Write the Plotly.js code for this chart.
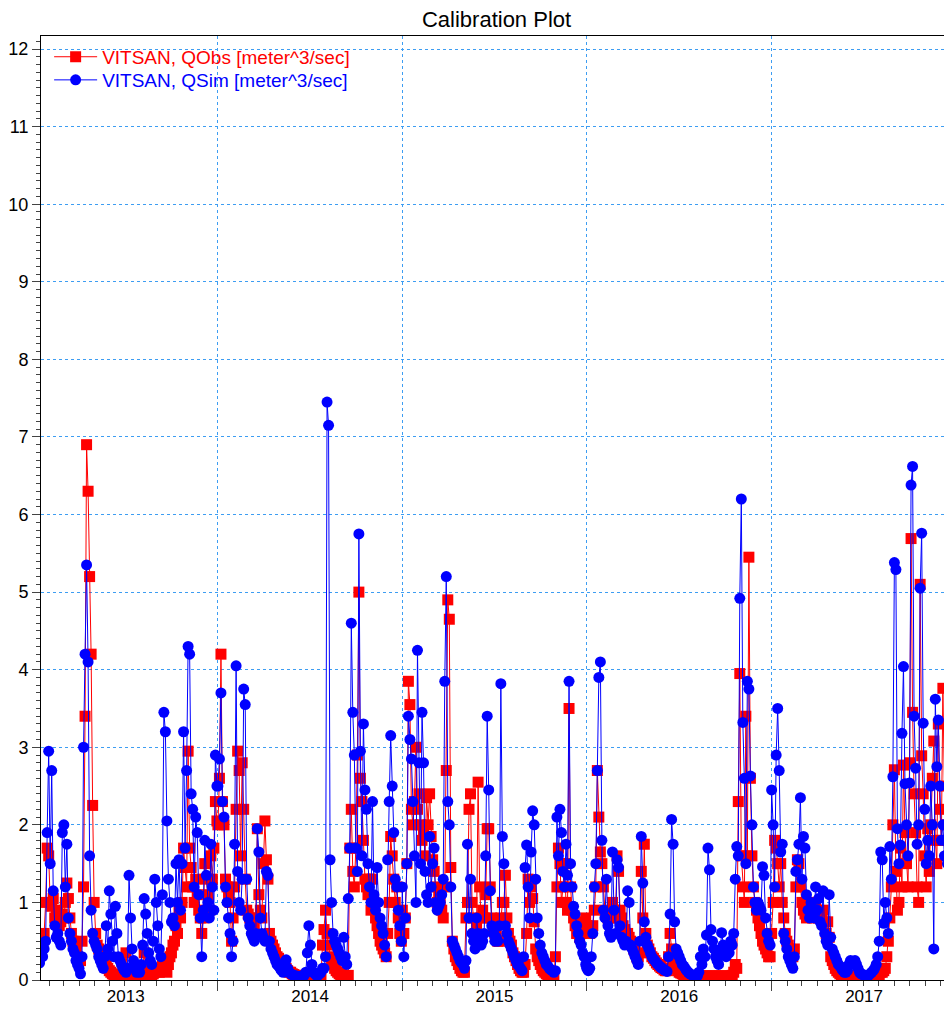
<!DOCTYPE html>
<html>
<head>
<meta charset="utf-8">
<script src="https://cdn.plot.ly/plotly-3.0.1.min.js"></script>
<style>html,body{margin:0;padding:0;background:#fff}</style>
</head>
<body>
<div id="chart" style="width:944px;height:1010px"></div>
<script>
// One value every 3 days, starting 1 January of each year (122 values per year)
const STEP_DAYS = 3;
const years = [2013, 2014, 2015, 2016, 2017];

const obsName = "VITSAN, QObs [meter^3/sec]";
const simName = "VITSAN, QSim [meter^3/sec]";

// Observed discharge (m3/s)
const obs2013 = [
  0.35,0.4,0.38,0.4,0.35,0.5,0.45,0.6,1.0,1.7,
  1.6,1.0,0.95,1.05,0.8,0.85,0.9,0.7,0.75,0.85,
  0.8,1.0,1.25,1.05,0.8,0.6,0.5,0.45,0.4,0.3,
  0.28,0.25,0.5,1.2,3.4,6.9,6.3,5.2,4.2,2.25,
  1.0,0.6,0.45,0.4,0.35,0.3,0.25,0.2,0.18,0.15,
  0.12,0.1,0.08,0.07,0.06,0.05,0.05,0.05,0.05,0.05,
  0.05,0.35,0.1,0.06,0.05,0.04,0.04,0.04,0.04,0.05,
  0.05,0.05,0.1,0.35,0.15,0.08,0.06,0.05,0.06,0.08,
  0.1,0.1,0.12,0.1,0.15,0.2,0.15,0.12,0.1,0.2,
  0.3,0.35,0.45,0.5,0.7,0.6,0.9,0.8,1.0,1.7,
  1.45,1.2,2.95,1.7,1.45,1.2,1.0,1.3,1.1,0.9,
  0.8,0.6,0.8,1.5,1.3,1.1,0.9,1.6,1.3,1.7,
  2.3,2.05];
const obs2014 = [
  2.0,2.6,4.2,2.3,2.0,1.3,1.2,1.1,1.0,0.5,
  0.8,1.2,2.2,2.95,2.7,1.6,2.8,2.2,1.3,0.9,
  0.85,0.8,0.75,0.7,0.7,0.8,1.95,1.1,0.9,0.8,
  1.5,2.05,1.55,1.3,0.6,0.5,0.45,0.4,0.35,0.3,
  0.28,0.25,0.22,0.2,0.18,0.15,0.12,0.1,0.1,0.08,
  0.07,0.06,0.06,0.05,0.05,0.05,0.05,0.05,0.05,0.05,
  0.05,0.05,0.05,0.05,0.05,0.05,0.05,0.05,0.05,0.45,
  0.65,0.9,0.6,0.45,0.3,0.25,0.2,0.15,0.12,0.1,
  0.08,0.07,0.06,0.05,0.05,0.05,0.06,1.7,2.2,1.4,
  1.2,1.7,2.9,5.0,2.6,2.3,1.8,1.3,1.2,1.1,
  1.3,0.9,1.3,1.0,0.8,0.7,0.6,0.5,0.45,0.4,
  0.35,0.3,0.6,1.0,1.85,1.6,1.3,1.0,1.2,0.8,
  0.6,0.5];
const obs2015 = [
  0.9,0.6,0.8,1.5,3.85,3.55,2.2,2.0,2.3,3.0,
  2.2,2.4,2.0,1.8,1.9,1.6,2.35,2.0,2.4,1.85,
  1.55,1.4,1.2,1.0,1.1,1.0,0.9,0.8,1.2,2.7,
  4.9,4.65,1.45,0.5,0.4,0.3,0.25,0.2,0.15,0.12,
  0.1,0.1,0.8,1.0,2.2,2.4,1.0,0.8,0.6,0.7,
  2.55,1.2,0.8,0.9,0.8,1.1,1.95,1.95,1.2,0.8,
  0.7,0.6,0.6,0.5,0.5,0.8,1.0,1.0,1.35,0.8,
  0.6,0.5,0.45,0.35,0.3,0.25,0.2,0.15,0.12,0.1,
  0.1,0.2,0.6,1.3,1.0,1.2,1.05,0.75,0.4,0.3,
  0.25,0.2,0.15,0.12,0.1,0.08,0.07,0.06,0.05,0.05,
  0.05,0.3,1.2,1.7,1.5,1.0,1.2,1.5,1.0,0.9,
  3.5,1.2,0.9,0.8,0.7,0.6,0.6,0.55,0.6,0.7,
  0.75,0.8];
const obs2016 = [
  0.7,0.65,0.6,0.65,0.7,0.9,1.2,2.7,2.1,1.65,
  1.5,1.2,0.9,0.85,0.8,0.8,0.85,1.0,0.9,0.8,
  1.6,1.4,0.9,0.8,0.7,0.65,0.6,0.6,0.55,0.5,
  0.45,0.4,0.35,0.3,0.3,0.35,1.4,0.8,1.75,0.6,
  0.45,0.4,0.35,0.3,0.28,0.25,0.22,0.2,0.18,0.16,
  0.15,0.13,0.12,0.12,0.3,0.6,0.4,0.25,0.2,0.15,
  0.12,0.1,0.09,0.08,0.07,0.06,0.06,0.05,0.05,0.05,
  0.05,0.05,0.05,0.05,0.05,0.05,0.05,0.05,0.05,0.05,
  0.05,0.05,0.05,0.05,0.05,0.05,0.05,0.05,0.05,0.05,
  0.05,0.05,0.05,0.05,0.05,0.05,0.06,0.1,0.2,0.15,
  2.3,3.95,1.6,1.2,1.0,3.4,1.6,5.45,2.6,1.6,
  1.2,1.0,0.9,0.8,0.7,0.6,0.5,0.45,0.4,0.35,
  0.3,0.3];
const obs2017 = [
  0.6,1.0,1.8,1.7,1.5,1.2,1.5,1.0,0.8,0.6,
  0.5,0.45,0.4,0.35,0.3,0.4,1.2,1.55,1.5,1.2,
  1.0,0.9,0.85,0.8,1.0,0.9,0.85,0.8,0.9,1.0,
  0.9,0.8,0.85,0.8,0.9,0.75,0.6,0.75,0.55,0.3,
  0.25,0.2,0.15,0.12,0.1,0.08,0.07,0.06,0.05,0.05,
  0.05,0.05,0.05,0.05,0.05,0.05,0.05,0.05,0.05,0.05,
  0.05,0.05,0.05,0.05,0.05,0.05,0.05,0.05,0.05,0.05,
  0.05,0.06,0.1,0.1,0.12,0.15,0.3,0.5,0.8,1.2,
  2.0,2.71,1.4,0.9,1.0,1.7,1.2,2.77,1.9,1.5,
  1.2,2.8,5.69,3.45,2.4,1.9,1.2,1.0,5.1,2.89,
  2.4,1.6,1.2,1.95,1.4,2.0,2.6,3.08,1.8,1.5,
  3.3,2.2,1.8,3.76,2.5,2.0,1.8,1.6,1.5,1.4,
  1.3,1.2];

// Simulated discharge (m3/s)
const sim2013 = [
  0.3,0.28,0.3,0.25,0.22,0.35,0.3,0.4,0.5,1.9,
  2.95,1.5,2.7,1.15,0.7,0.55,0.6,0.5,0.45,1.9,
  2.0,1.2,1.75,0.8,0.6,0.5,0.4,0.35,0.25,0.2,
  0.15,0.08,0.3,3.0,4.2,5.35,4.1,1.6,0.9,0.6,
  0.5,0.45,0.4,0.3,0.25,0.2,0.15,0.3,0.7,0.4,
  1.15,0.85,0.5,0.3,0.95,0.6,0.3,0.25,0.2,0.15,
  0.12,0.1,0.15,1.35,0.8,0.4,0.25,0.15,0.1,0.12,
  0.1,0.2,0.45,1.05,0.85,0.6,0.35,0.25,0.2,0.5,
  1.3,1.0,0.7,0.4,0.3,1.1,3.45,3.2,2.05,1.3,
  1.0,0.75,0.8,0.7,1.5,1.0,1.55,0.9,1.5,3.2,
  1.7,2.7,4.3,4.2,2.4,2.2,1.2,2.1,1.9,1.1,
  0.8,0.3,0.9,1.8,1.35,1.0,0.8,1.75,1.2,0.9,
  2.9,2.5];
const sim2014 = [
  2.5,2.85,3.7,2.3,2.1,1.2,1.0,0.8,0.6,0.3,
  0.5,1.75,4.05,1.4,1.0,0.9,1.3,3.75,3.55,1.3,
  0.8,0.7,0.6,0.55,0.5,0.6,1.95,1.65,0.8,0.6,
  0.55,0.5,1.4,1.35,0.5,0.4,0.35,0.3,0.25,0.2,
  0.18,0.15,0.12,0.1,0.12,0.26,0.15,0.1,0.08,0.07,
  0.06,0.05,0.05,0.04,0.04,0.05,0.05,0.06,0.1,0.35,
  0.7,0.45,0.2,0.1,0.08,0.06,0.06,0.08,0.1,0.15,
  0.15,0.3,7.45,7.15,1.55,1.0,0.6,0.5,0.45,0.4,
  0.35,0.3,0.25,0.55,0.3,0.2,1.05,1.7,4.6,3.45,
  2.9,1.7,1.4,5.75,2.95,1.6,3.3,2.45,2.2,1.5,
  1.2,1.0,2.3,1.1,0.9,1.45,1.0,0.8,0.7,0.6,
  0.45,0.3,1.55,2.3,3.15,2.5,1.9,1.3,1.2,0.9,
  0.7,0.5];
const sim2015 = [
  1.2,0.3,0.8,1.5,3.4,3.1,2.85,2.3,1.6,1.0,
  4.25,2.8,1.5,3.45,2.8,1.4,1.1,1.0,1.85,1.2,
  1.5,1.7,1.0,0.9,0.95,1.0,1.1,1.3,3.85,5.2,
  2.3,2.0,1.2,0.5,0.45,0.4,0.35,0.3,0.25,0.22,
  0.2,0.15,0.25,1.75,0.8,1.3,0.6,0.5,0.4,0.8,
  0.6,0.5,0.45,0.5,0.6,1.6,3.4,2.45,1.15,0.7,
  0.6,0.5,0.55,0.5,0.7,3.82,1.85,1.5,0.7,0.6,
  0.5,0.45,0.4,0.35,0.3,0.25,0.2,0.18,0.15,0.12,
  0.3,1.45,1.74,1.2,0.8,1.65,2.18,2.0,1.3,0.8,
  0.6,0.45,0.35,0.3,0.25,0.2,0.18,0.15,0.13,0.12,
  0.1,0.12,2.1,1.6,2.2,1.9,1.4,1.2,1.75,1.35,
  3.85,1.5,1.2,0.95,0.85,0.7,0.6,0.5,0.45,0.35,
  0.3,0.2];
const sim2016 = [
  0.15,0.12,0.15,0.3,0.6,1.2,1.5,2.7,3.9,4.1,
  1.8,0.9,0.8,1.3,0.7,0.6,0.55,1.65,0.9,0.6,
  1.55,1.45,0.7,0.55,0.5,0.45,0.5,1.15,1.0,0.45,
  0.4,0.35,0.3,0.25,0.2,0.5,1.85,1.25,0.75,0.55,
  0.45,0.4,0.35,0.3,0.27,0.25,0.22,0.2,0.18,0.16,
  0.15,0.13,0.12,0.11,0.3,0.85,2.07,1.75,0.75,0.4,
  0.35,0.3,0.25,0.2,0.18,0.15,0.12,0.1,0.08,0.07,
  0.06,0.06,0.05,0.05,0.1,0.3,0.2,0.4,0.3,0.58,
  1.7,1.42,0.65,0.5,0.4,0.3,0.25,0.2,0.35,0.61,
  0.45,0.35,0.3,0.4,0.35,0.5,0.45,0.6,1.3,1.72,
  1.6,4.92,6.2,3.32,2.6,1.5,3.85,3.75,2.63,2.0,
  1.2,1.0,0.9,1.0,0.95,0.9,1.46,1.35,0.8,0.6,
  0.5,0.45];
const sim2017 = [
  2.45,2.0,1.2,2.9,3.5,2.7,1.65,1.75,0.6,0.5,
  0.4,0.3,0.25,0.2,0.15,0.3,1.4,1.55,1.75,2.35,
  1.3,1.85,1.7,1.1,0.9,0.8,1.0,0.9,0.8,1.2,
  0.9,1.05,0.75,0.7,1.15,0.6,0.5,0.45,1.1,0.55,
  0.4,0.35,0.3,0.25,0.2,0.18,0.15,0.12,0.1,0.1,
  0.12,0.2,0.25,0.22,0.2,0.25,0.2,0.15,0.1,0.08,
  0.07,0.06,0.06,0.05,0.06,0.08,0.1,0.12,0.15,0.2,
  0.3,0.5,1.65,1.55,0.73,1.0,0.8,0.6,1.72,1.3,
  2.62,5.38,5.29,1.95,1.5,1.74,3.18,4.04,2.53,2.0,
  1.6,2.54,6.38,6.62,3.4,2.73,1.75,2.0,5.05,5.76,
  3.31,2.2,1.5,1.8,1.6,2.5,2.0,0.4,3.62,2.75,
  3.35,2.5,1.8,2.0,1.6,1.8,1.5,1.6,1.4,1.3,
  1.2,1.1];

const obsByYear = [obs2013, obs2014, obs2015, obs2016, obs2017];
const simByYear = [sim2013, sim2014, sim2015, sim2016, sim2017];

const DAY_MS = 86400000;
function datesFor(year, n) {
  const out = [];
  for (let i = 0; i < n; i++) {
    const d = new Date(Date.UTC(year, 0, 1) + i * STEP_DAYS * DAY_MS);
    out.push(d.toISOString().slice(0, 10));
  }
  return out;
}
let xObs = [], yObs = [], xSim = [], ySim = [];
years.forEach((yr, k) => {
  xObs = xObs.concat(datesFor(yr, obsByYear[k].length));
  yObs = yObs.concat(obsByYear[k]);
  xSim = xSim.concat(datesFor(yr, simByYear[k].length));
  ySim = ySim.concat(simByYear[k]);
});

const FONT = "Liberation Sans, Arial, sans-serif";
const GRID = "#3d9df2";

const traces = [
  {
    x: xObs, y: yObs, type: "scatter", mode: "lines+markers",
    name: '<span style="color:#ff0000">' + obsName + '</span>',
    legend: "legend",
    line: {color: "#ff0000", width: 1},
    marker: {symbol: "square", size: 11, color: "#ff0000"}
  },
  {
    x: xSim, y: ySim, type: "scatter", mode: "lines+markers",
    name: '<span style="color:#0000ff">' + simName + '</span>',
    legend: "legend2",
    line: {color: "#0000ff", width: 1},
    marker: {symbol: "circle", size: 11, color: "#0000ff"}
  }
];

const legendBase = {
  xanchor: "left", yanchor: "top",
  bgcolor: "rgba(0,0,0,0)", borderwidth: 0,
  font: {family: FONT, size: 19, color: "#000"},
  itemwidth: 43
};

const layout = {
  width: 944, height: 1010,
  margin: {l: 41, r: 0, t: 36, b: 30, pad: 0},
  paper_bgcolor: "#ffffff", plot_bgcolor: "#ffffff",
  font: {family: FONT, color: "#000000"},
  showlegend: true,
  title: {
    text: "Calibration Plot",
    font: {family: FONT, size: 22, color: "#000000"},
    x: 0.526, xref: "container", xanchor: "center",
    y: 0.981, yref: "container", yanchor: "middle"
  },
  xaxis: {
    type: "date",
    range: ["2013-01-15 19:00", "2017-12-08 05:00"],
    tick0: "2013-01-01", dtick: "M12",
    ticklabelmode: "period", tickformat: "%Y",
    ticks: "outside", ticklen: 10, tickcolor: "#444",
    ticklabelstandoff: -9,
    tickfont: {family: FONT, size: 17, color: "#000"},
    showgrid: true, gridcolor: GRID, griddash: "dot", gridwidth: 1,
    showline: true, linecolor: "#000", linewidth: 1, mirror: true,
    zeroline: false,
    minor: {dtick: "M1", tick0: "2013-01-01", ticks: "outside", ticklen: 5, tickcolor: "#444", showgrid: false}
  },
  yaxis: {
    range: [0, 12.168],
    tick0: 0, dtick: 1,
    ticks: "outside", ticklen: 8, tickcolor: "#444",
    tickfont: {family: FONT, size: 18, color: "#000"},
    showgrid: true, gridcolor: GRID, griddash: "3px,3px", gridwidth: 1,
    showline: true, linecolor: "#000", linewidth: 1,
    zeroline: false,
    minor: {dtick: 0.1, ticks: "outside", ticklen: 4, tickcolor: "#444", showgrid: false}
  },
  legend: Object.assign({}, legendBase, {x: 0.009, y: 0.998}),
  legend2: Object.assign({}, legendBase, {x: 0.009, y: 0.9735})
};

Plotly.newPlot("chart", traces, layout, {staticPlot: true, displayModeBar: false});
</script>
</body>
</html>
